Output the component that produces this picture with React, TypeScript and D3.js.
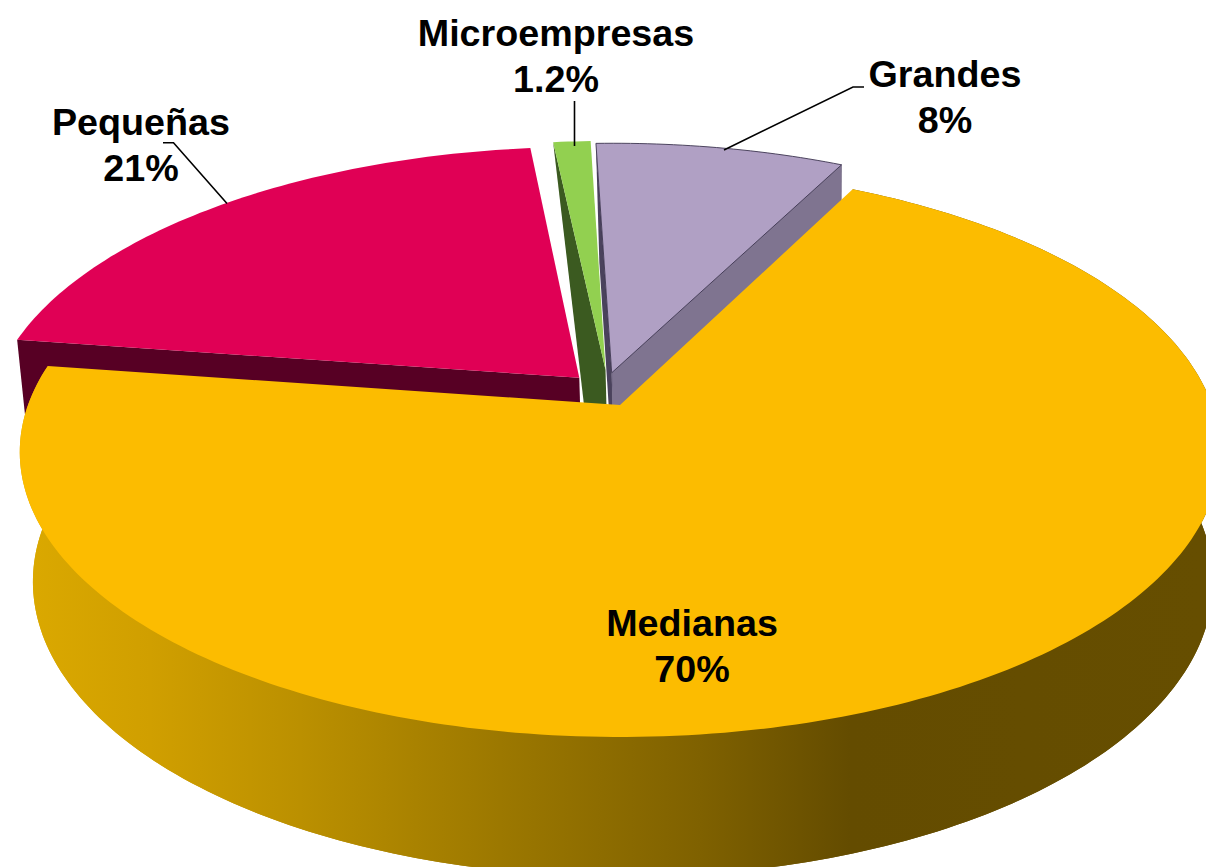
import React from 'react'
import * as d3 from 'd3'

const categories = ['Grandes', 'Medianas', 'Pequeñas', 'Microempresas']
const values = [8, 70, 21, 1.2]
const valueLabels = ['8%', '70%', '21%', '1.2%']

const width = 1206
const height = 867

// projection of the pie plane: unit circle -> perspective ellipse
const topPlane = { x0: 620, y0: 405, a: 592, b: 277.2 }
const bottomPlane = { x0: 623, y0: 533, a: 582, b: 287 }
const k = 0.165

// exploded slices, offset in the unit circle plane
const explode: Record<string, [number, number]> = {
  Grandes: [-0.0143, -0.1185],
  Medianas: [0, 0],
  'Pequeñas': [-0.0699, -0.1001],
  Microempresas: [-0.025, -0.13],
}

const colors: Record<string, { top: string; wall: string; strip?: string }> = {
  Grandes: { top: '#b0a0c4', wall: '#7f7490', strip: '#4a425c' },
  Medianas: { top: '#fcbc00', wall: 'url(#sideGradient)' },
  'Pequeñas': { top: '#e00055', wall: '#570024' },
  Microempresas: { top: '#92d050', wall: '#3b5a20' },
}

const labelPos: Record<string, { x: number; y: number }> = {
  Grandes: { x: 945, y: 87 },
  Medianas: { x: 692, y: 636 },
  'Pequeñas': { x: 141, y: 135 },
  Microempresas: { x: 556, y: 46 },
}

const leaderLines: [number, number][][] = [
  [[724, 150], [853, 87], [864, 87]],
  [[574.5, 146], [574.5, 101]],
  [[227, 203.5], [173.5, 142.7], [163, 142.7]],
]

const sideStops = [
  [22, '#dba900'],
  [150, '#d09f00'],
  [300, '#bb9000'],
  [500, '#9c7800'],
  [700, '#7f6100'],
  [850, '#644c00'],
  [1206, '#664e00'],
] as const

const rad = (deg: number) => (deg * Math.PI) / 180

const arcs = d3
  .pie<number>()
  .sort(null)
  .startAngle(rad(-1.94))
  .endAngle(rad(358.06))(values)

type Pt = [number, number]

function project(angle: number | null, off: [number, number], plane = topPlane): Pt {
  const u = (angle === null ? 0 : Math.sin(angle)) + off[0]
  const v = (angle === null ? 0 : -Math.cos(angle)) + off[1]
  const w = 1 - k * v
  return [plane.x0 + (plane.a * u) / w, plane.y0 + (plane.b * v) / w]
}

function arcPoints(a0: number, a1: number, off: [number, number], plane = topPlane): Pt[] {
  const n = Math.max(4, Math.ceil(((a1 - a0) * 180) / Math.PI))
  return d3.range(n + 1).map(i => project(a0 + ((a1 - a0) * i) / n, off, plane))
}

const line = d3.line<Pt>().x(d => d[0]).y(d => d[1])
const closed = (pts: Pt[]) => line(pts) + 'Z'

function Slice({ index }: { index: number }) {
  const name = categories[index]
  const { startAngle, endAngle } = arcs[index]
  const off = explode[name]
  const c = colors[name]
  const apex = project(null, off)
  const apexB = project(null, off, bottomPlane)
  const top = closed([apex, ...arcPoints(startAngle, endAngle, off)])
  const startT = project(startAngle, off)
  const startB = project(startAngle, off, bottomPlane)
  const endT = project(endAngle, off)
  const endB = project(endAngle, off, bottomPlane)

  if (name === 'Medianas') {
    const topArc = arcPoints(startAngle, endAngle, off)
    const botArc = arcPoints(startAngle, endAngle, off, bottomPlane)
    return (
      <g>
        <path d={closed([apexB, ...botArc])} fill={c.wall} />
        <path d={closed([...topArc, ...botArc.slice().reverse()])} fill={c.wall} />
        <path d={top} fill={c.top} />
      </g>
    )
  }
  if (name === 'Grandes') {
    return (
      <g>
        <path d={closed([startT, apex, apexB, startB])} fill={c.strip} />
        <path d={closed([endT, apex, apexB, endB])} fill={c.wall} stroke="#5e5570" strokeWidth={0.5} />
        <path d={top} fill={c.top} stroke="#3d3550" strokeWidth={0.9} />
      </g>
    )
  }
  if (name === 'Pequeñas') {
    return (
      <g>
        <path d={closed([startT, apex, apexB, startB])} fill={c.wall} />
        <path d={top} fill={c.top} />
      </g>
    )
  }
  // the small slice only shows a narrow wedge of its wall
  return (
    <g>
      <path d={closed([startT, apex, apexB, [apexB[0] - 14, apexB[1]]])} fill={c.wall} />
      <path d={top} fill={c.top} />
    </g>
  )
}

export default function App() {
  const order = ['Grandes', 'Pequeñas', 'Microempresas', 'Medianas'].map(n => categories.indexOf(n))
  const font = { fontFamily: '"Liberation Sans", Arial, sans-serif', fontWeight: 700, fontSize: 37.7 }

  return (
    <svg
      width={width}
      height={height}
      style={{ position: 'absolute', left: 0, top: 0, display: 'block', background: '#fff' }}
    >
      <defs>
        <linearGradient id="sideGradient" gradientUnits="userSpaceOnUse" x1={0} x2={width} y1={0} y2={0}>
          {sideStops.map(([x, col]) => (
            <stop key={x} offset={x / width} stopColor={col} />
          ))}
        </linearGradient>
      </defs>

      {order.map(i => (
        <Slice key={categories[i]} index={i} />
      ))}

      {leaderLines.map((pts, i) => (
        <path key={i} d={line(pts as Pt[]) as string} fill="none" stroke="#000" strokeWidth={1.6} />
      ))}

      {categories.map((name, i) => (
        <text key={name} x={labelPos[name].x} y={labelPos[name].y} textAnchor="middle" fill="#000" {...font}>
          <tspan x={labelPos[name].x}>{name}</tspan>
          <tspan x={labelPos[name].x} dy={46}>
            {valueLabels[i]}
          </tspan>
        </text>
      ))}
    </svg>
  )
}
